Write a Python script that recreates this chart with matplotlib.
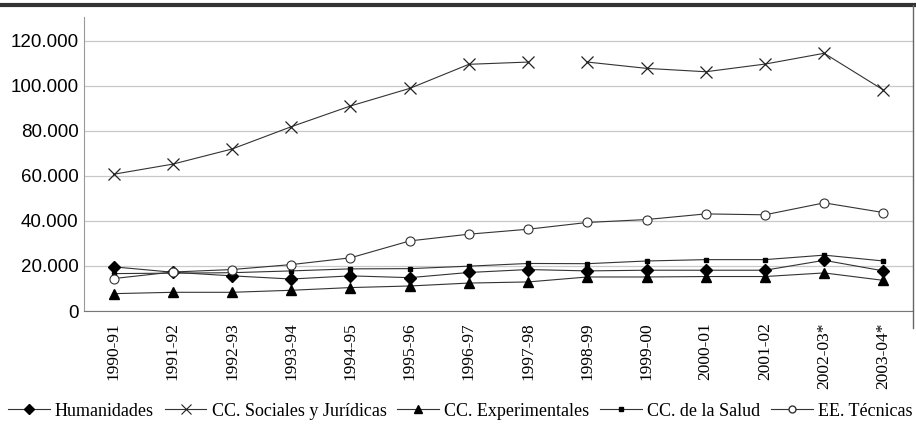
import numpy as np
import matplotlib
matplotlib.use("Agg")
import matplotlib.pyplot as plt
from matplotlib.lines import Line2D

cursos = ["1990-91", "1991-92", "1992-93", "1993-94", "1994-95", "1995-96",
          "1996-97", "1997-98", "1998-99", "1999-00", "2000-01", "2001-02",
          "2002-03*", "2003-04*"]

humanidades = [19600, 17200, 15600, 14200, 15600, 14800, 17100, 18400,
               17800, 18100, 18100, 18100, 22500, 17800]
sociales = [60700, 65200, 71900, 81800, 91000, 98800, 109500, 110500,
            110500, 107700, 106200, 109600, 114400, 98100]
experimentales = [7700, 8300, 8300, 9200, 10400, 11100, 12400, 12900,
                  15100, 15100, 15300, 15300, 16900, 13600]
salud = [16600, 16800, 17000, 17800, 18700, 18800, 19900, 21100,
         21000, 22200, 22800, 22800, 24800, 22200]
tecnicas = [14400, 17300, 18400, 20600, 23600, 31100, 34100, 36300,
            39300, 40600, 43100, 42700, 48000, 43700]

serif = ["Liberation Serif", "DejaVu Serif"]
sans = ["Liberation Sans", "DejaVu Sans"]

fig = plt.figure(figsize=(9.16, 4.28), dpi=100)
ax = fig.add_axes([84/916, 1-311/428, (913-84)/916, (311-17)/428])

x = np.arange(len(cursos))
lc = "#333333"
lw = 0.8

ax.plot(x, humanidades, color=lc, lw=lw, marker="D", ms=6, mfc="black", mec="black")
# la serie de Sociales tiene un corte entre 1997-98 y 1998-99
ax.plot(x[:8], sociales[:8], color=lc, lw=lw, marker="x", ms=9, mew=0.9, mec="#222222")
ax.plot(x[8:], sociales[8:], color=lc, lw=lw, marker="x", ms=9, mew=0.9, mec="#222222")
ax.plot(x, experimentales, color=lc, lw=lw, marker="^", ms=7.5, mfc="black", mec="black")
ax.plot(x, salud, color=lc, lw=lw, marker="s", ms=3.5, mfc="black", mec="black")
ax.plot(x, tecnicas, color=lc, lw=lw, marker="o", ms=6.5, mfc="white", mec="#333333", mew=0.8)

ax.set_xlim(-0.5, len(cursos) - 0.5)
ax.set_ylim(0, 130500)
ax.set_yticks(np.arange(0, 120001, 20000))
ax.set_yticklabels(["0" if v == 0 else f"{v//1000}.000" for v in range(0, 120001, 20000)],
                   family=sans, fontsize=13.5)
ax.set_xticks(x)
ax.set_xticklabels(cursos, rotation=90, family=serif, fontsize=12.5)
ax.tick_params(axis="both", length=0)
ax.tick_params(axis="y", pad=4)
ax.tick_params(axis="x", pad=8)
ax.grid(axis="y", color="#c8c8c8", lw=0.9)
ax.set_axisbelow(True)
for s in ["top", "right"]:
    ax.spines[s].set_visible(False)
ax.spines["left"].set_color("#999999")
ax.spines["bottom"].set_color("#777777")

# marco de la figura
fig.add_artist(Line2D([0, 1], [1-4.5/428, 1-4.5/428], color="#333333", lw=3))
fig.add_artist(Line2D([913/916, 913/916], [1-4.5/428, 1-328/428], color="#666666", lw=1))

handles = [
    Line2D([], [], color=lc, lw=lw, marker="D", ms=5, mfc="black", mec="black"),
    Line2D([], [], color=lc, lw=lw, marker="x", ms=7, mew=0.8, mec="#222222"),
    Line2D([], [], color=lc, lw=lw, marker="^", ms=6, mfc="black", mec="black"),
    Line2D([], [], color=lc, lw=lw, marker="s", ms=3, mfc="black", mec="black"),
    Line2D([], [], color=lc, lw=lw, marker="o", ms=5, mfc="white", mec="#333333"),
]
labels = ["Humanidades", "CC. Sociales y Jurídicas", "CC. Experimentales",
          "CC. de la Salud", "EE. Técnicas"]
fig.legend(handles, labels, loc="center left", bbox_to_anchor=(8/916, 1-411/428),
           ncol=5, frameon=False, handlelength=2.3, handletextpad=0.3,
           columnspacing=0.6, borderpad=0, borderaxespad=0,
           prop={"family": serif, "size": 13})

fig.savefig("out.png", dpi=100)
